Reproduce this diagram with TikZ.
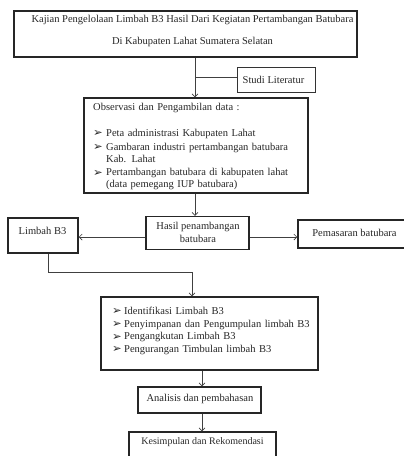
\documentclass[tikz,border=0pt]{standalone}
\usepackage{fontspec}
\setmainfont{Liberation Serif}
\newfontfamily\symfont{DejaVu Sans}
\usetikzlibrary{arrows.meta}
\newcommand\bul{\raisebox{-0.4pt}{\symfont\fontsize{11.5}{11.5}\selectfont ➢}}
\newcommand\bitem[2]{\par\hangindent=#1\hangafter=1\noindent\makebox[#1][l]{\bul}#2\par}
\tikzset{
  box/.style={draw=black!85, line width=1.5pt, inner sep=0pt},
  thinbox/.style={draw=black!80, line width=0.8pt, inner sep=0pt},
  txt/.style={font=\fontsize{10.5}{12}\selectfont, text=black!85, inner sep=0pt},
  conn/.style={draw=black!75, line width=0.7pt},
  arr/.style={conn, -{Straight Barb[length=3pt,width=6pt]}}
}
\begin{document}
\begin{tikzpicture}[x=1pt,y=-1pt]
\useasboundingbox (0,0) rectangle (404,456);
% boxes
\node[box, minimum width=343pt, minimum height=46pt] (title) at (185.5,34) {};
\node[txt, align=center, font=\fontsize{10.5}{22}\selectfont] (titleT) at (192.5,31)
  {Kajian Pengelolaan Limbah B3 Hasil Dari Kegiatan Pertambangan Batubara\\Di Kabupaten Lahat Sumatera Selatan};
\node[thinbox, minimum width=78pt, minimum height=25pt] (studi) at (276,79.5) {};
\node[txt] (studiT) at (273.5,80) {Studi Literatur};
\node[box, minimum width=224pt, minimum height=95pt] (obs) at (196,145.5) {};
\node[txt, anchor=north west, text width=207pt] (obsT) at (93,103.5) {%
  \noindent Observasi dan Pengambilan data :\par
  \vspace{12pt}\parskip=1.6pt
  \bitem{13pt}{Peta administrasi Kabupaten Lahat}
  \bitem{13pt}{Gambaran industri pertambangan batubara\linebreak Kab. Lahat}
  \bitem{13pt}{Pertambangan batubara di kabupaten lahat\linebreak (data pemegang IUP batubara)}};
\node[box, minimum width=103pt, minimum height=33pt] (hasil) at (197.5,233) {};
\node[txt, align=center, font=\fontsize{10.5}{13}\selectfont] (hasilT) at (198,232.5) {Hasil penambangan\\batubara};
\node[box, minimum width=70pt, minimum height=35pt] (limbah) at (43,235.5) {};
\node[txt] (limbahT) at (42.5,230.5) {Limbah B3};
\node[box, minimum width=122pt, minimum height=28pt] (pemasaran) at (359,234) {};
\node[txt] (pemasaranT) at (354.5,232.5) {Pemasaran batubara};
\node[box, minimum width=217pt, minimum height=73pt] (list) at (209.5,333.5) {};
\node[txt, anchor=north west, text width=200pt] (listT) at (112,301.5) {%
  \parskip=0.7pt
  \bitem{12pt}{Identifikasi Limbah B3}
  \bitem{12pt}{Penyimpanan dan Pengumpulan limbah B3}
  \bitem{12pt}{Pengangkutan Limbah B3}
  \bitem{12pt}{Pengurangan Timbulan limbah B3}};
\node[box, minimum width=123pt, minimum height=26pt] (analisis) at (199.5,400) {};
\node[txt] (analisisT) at (200,398.5) {Analisis dan pembahasan};
\node[box, minimum width=147pt, minimum height=40pt] (kesimp) at (202.5,452) {};
\node[txt, font=\fontsize{10}{12}\selectfont] (kesimpT) at (202.5,442.5) {Kesimpulan dan Rekomendasi};
% connectors
\draw[arr] (title.south -| 195,0) -- (obs.north -| 195,0);
\draw[conn] (studi.west |- 0,77) -- (195,77);
\draw[arr] (obs.south -| 195,0) -- (hasil.north -| 195,0);
\draw[arr] (hasil.west |- 0,237) -- (limbah.east |- 0,237);
\draw[arr] (hasil.east |- 0,237) -- (pemasaran.west |- 0,237);
\draw[arr] (limbah.south -| 48,0) -- (48,272) -| (list.north -| 192,0);
\draw[arr] (list.south -| 202,0) -- (analisis.north -| 202,0);
\draw[arr] (analisis.south -| 202,0) -- (kesimp.north -| 202,0);
\end{tikzpicture}
\end{document}
